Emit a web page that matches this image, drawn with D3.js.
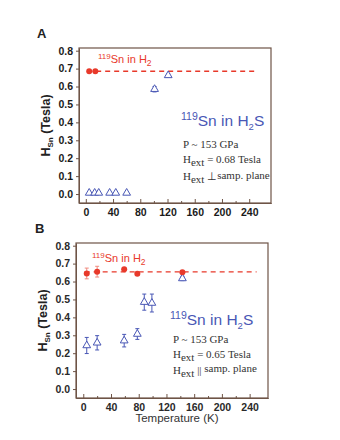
<!DOCTYPE html>
<html lang="en">
<head>
<meta charset="UTF-8">
<title>119Sn NMR field vs temperature</title>
<script src="https://d3js.org/d3.v7.min.js"></script>
<style>
  body { margin: 0; background: #fff; }
  svg text { font-family: "Liberation Sans", Arial, sans-serif; }
  .serif { font-family: "Liberation Serif", "Times New Roman", serif !important; }
</style>
</head>
<body>
<script>
// ---- data ----
const tempTicks = [0, 40, 80, 120, 160, 200, 240];
const fieldTicks = [0, 0.1, 0.2, 0.3, 0.4, 0.5, 0.6, 0.7, 0.8];

// panel A (H_ext perpendicular to sample plane)
const h2TempA = [5, 14];
const h2FieldA = [0.685, 0.685];
const h2ErrA = [0, 0];
const h2sTempA = [5, 13, 19, 35, 44, 60, 101, 121];
const h2sFieldA = [0.006, 0.006, 0.006, 0.006, 0.006, 0.006, 0.585, 0.662];
const h2sErrA = [0, 0, 0, 0, 0, 0, 0.015, 0.008];
const refLineA = 0.685;

// panel B (H_ext parallel to sample plane)
const h2TempB = [5, 20, 59, 78, 143];
const h2FieldB = [0.645, 0.655, 0.668, 0.643, 0.652];
const h2ErrB = [0.03, 0.03, 0.006, 0.008, 0.008];
const h2sTempB = [5, 20, 59, 78, 88, 99, 143];
const h2sFieldB = [0.243, 0.258, 0.27, 0.307, 0.485, 0.48, 0.617];
const h2sErrB = [0.045, 0.04, 0.035, 0.03, 0.045, 0.05, 0.012];
const refLineB = 0.654;

const red = "#e8392a";
const blue = "#4957b5";
const frame = "#6e5446";

const svg = d3.select("body").append("svg")
  .attr("width", 340).attr("height", 440);

function drawPanel(p) {
  const x = d3.scaleLinear().domain(p.xDomain).range([p.left, p.right]);
  const y = d3.scaleLinear().domain([-0.05, 0.815]).range([p.bottom, p.top]);
  const g = svg.append("g");

  // frame
  g.append("rect")
    .attr("x", p.left).attr("y", p.top)
    .attr("width", p.right - p.left).attr("height", p.bottom - p.top)
    .attr("fill", "none").attr("stroke", frame).attr("stroke-width", 1.2);

  // axes
  g.append("g").attr("transform", `translate(0,${p.bottom})`)
    .call(d3.axisBottom(x).tickValues(tempTicks).tickFormat(d3.format("d"))
      .tickSizeInner(-4).tickSizeOuter(0).tickPadding(6));
  g.append("g").attr("transform", `translate(0,${p.bottom})`)
    .call(d3.axisBottom(x).tickValues(d3.range(20, 260, 40)).tickFormat("")
      .tickSizeInner(-2).tickSizeOuter(0));
  g.append("g").attr("transform", `translate(${p.left},0)`)
    .call(d3.axisLeft(y).tickValues(fieldTicks).tickFormat(d3.format(".1f"))
      .tickSizeInner(3).tickSizeOuter(0).tickPadding(3));
  g.selectAll(".domain").attr("stroke", frame);
  g.selectAll(".tick line").attr("stroke", frame);
  g.selectAll(".tick text")
    .attr("fill", p.tickColor).attr("font-size", 10.5).attr("font-weight", "bold");

  // y title
  const yt = g.append("text")
    .attr("transform", `translate(${p.yTitleX},${(p.top + p.bottom) / 2}) rotate(-90)`)
    .attr("text-anchor", "middle").attr("font-size", 12.5).attr("font-weight", "bold")
    .attr("fill", "#222");
  yt.append("tspan").text("H");
  yt.append("tspan").attr("font-size", 8).attr("dy", 3).text("Sn");
  yt.append("tspan").attr("dy", -3).text(" (Tesla)");

  // x title (panel A's is mostly hidden under panel B)
  const clipId = "clip" + p.name;
  svg.append("clipPath").attr("id", clipId).append("rect")
    .attr("x", 0).attr("y", 0).attr("width", 340).attr("height", p.xTitleClip);
  g.append("text")
    .attr("clip-path", `url(#${clipId})`)
    .attr("x", (p.left + p.right) / 2 + 5).attr("y", p.xTitleY)
    .attr("text-anchor", "middle").attr("font-size", 11.5).attr("fill", "#333")
    .text("Temperature  (K)");

  // panel letter
  g.append("text").attr("x", p.letterX).attr("y", p.letterY)
    .attr("font-size", 13).attr("font-weight", "bold").attr("fill", "#222")
    .text(p.name);

  // dashed reference
  g.append("line")
    .attr("x1", x(2)).attr("x2", x(250))
    .attr("y1", y(p.refLine)).attr("y2", y(p.refLine))
    .attr("stroke", red).attr("stroke-width", 1.4).attr("stroke-dasharray", "5,4");

  // error bars
  function errBars(temps, vals, errs, color) {
    const eg = g.append("g").attr("stroke", color).attr("stroke-width", 1);
    temps.forEach((t, i) => {
      if (!errs[i]) return;
      const cx = x(t);
      eg.append("line").attr("x1", cx).attr("x2", cx)
        .attr("y1", y(vals[i] - errs[i])).attr("y2", y(vals[i] + errs[i]));
      [-1, 1].forEach(s => eg.append("line")
        .attr("x1", cx - 2).attr("x2", cx + 2)
        .attr("y1", y(vals[i] + s * errs[i])).attr("y2", y(vals[i] + s * errs[i])));
    });
  }
  errBars(p.h2sTemp, p.h2sField, p.h2sErr, blue);
  errBars(p.h2Temp, p.h2Field, p.h2Err, "#f08a7e");

  // H2S triangles
  const tri = d3.symbol().type(d3.symbolTriangle).size(26);
  g.selectAll(".tri").data(p.h2sTemp).enter().append("path")
    .attr("d", tri)
    .attr("transform", (t, i) => `translate(${x(t)},${y(p.h2sField[i])})`)
    .attr("fill", "#fff").attr("stroke", blue).attr("stroke-width", 1);

  // H2 dots
  g.selectAll(".dot").data(p.h2Temp).enter().append("circle")
    .attr("cx", t => x(t)).attr("cy", (t, i) => y(p.h2Field[i]))
    .attr("r", 3).attr("fill", red);

  // labels
  const l1 = g.append("text").attr("x", p.h2LabelX).attr("y", p.h2LabelY)
    .attr("font-size", 11).attr("fill", red);
  l1.append("tspan").attr("font-size", 8).attr("dy", -4).text("119");
  l1.append("tspan").attr("dy", 4).text("Sn in H");
  l1.append("tspan").attr("font-size", 8.5).attr("dy", 3).text("2");

  const l2 = g.append("text").attr("x", p.h2sLabelX).attr("y", p.h2sLabelY)
    .attr("font-size", 15.5).attr("fill", blue);
  l2.append("tspan").attr("font-size", 10.5).attr("dy", -6).text("119");
  l2.append("tspan").attr("dy", 6).text("Sn in H");
  l2.append("tspan").attr("font-size", 9.5).attr("dy", 4).text("2");
  l2.append("tspan").attr("dy", -4).text("S");

  const tx = p.infoX;
  g.append("text").attr("class", "serif").attr("x", tx).attr("y", p.infoY[0])
    .attr("font-size", 11).attr("fill", "#333").text("P ~ 153 GPa");
  const h1 = g.append("text").attr("class", "serif").attr("x", tx).attr("y", p.infoY[1])
    .attr("font-size", 11).attr("fill", "#333");
  h1.append("tspan").text("H");
  h1.append("tspan").attr("dy", 3).text("ext");
  h1.append("tspan").attr("dy", -3).text(p.fieldText);
  const h3 = g.append("text").attr("class", "serif").attr("x", tx).attr("y", p.infoY[2])
    .attr("font-size", 11).attr("fill", "#333");
  h3.append("tspan").text("H");
  h3.append("tspan").attr("dy", 3).text("ext");
  h3.append("tspan").attr("dy", -3).text(p.planeSym);
  h3.append("tspan").attr("font-size", p.planeSize).attr("dy", p.planeDy).text("samp. plane");
}

drawPanel({
  name: "A", left: 79, right: 271, top: 48, bottom: 203,
  xDomain: [-10, 272], tickColor: "#1a1a1a",
  yTitleX: 50, xTitleY: 231, xTitleClip: 223,
  letterX: 37, letterY: 38,
  refLine: refLineA,
  h2Temp: h2TempA, h2Field: h2FieldA, h2Err: h2ErrA,
  h2sTemp: h2sTempA, h2sField: h2sFieldA, h2sErr: h2sErrA,
  h2LabelX: 98, h2LabelY: 63,
  h2sLabelX: 181, h2sLabelY: 126,
  infoX: 183, infoY: [148, 163, 180],
  fieldText: " = 0.68 Tesla", planeSym: " \u22A5", planeSize: 11, planeDy: -1
});

drawPanel({
  name: "B", left: 76, right: 268, top: 243, bottom: 398,
  xDomain: [-10.5, 266.5], tickColor: "#2a2a2a",
  yTitleX: 47, xTitleY: 422, xTitleClip: 440,
  letterX: 35, letterY: 233,
  refLine: refLineB,
  h2Temp: h2TempB, h2Field: h2FieldB, h2Err: h2ErrB,
  h2sTemp: h2sTempB, h2sField: h2sFieldB, h2sErr: h2sErrB,
  h2LabelX: 92, h2LabelY: 262,
  h2sLabelX: 170, h2sLabelY: 325,
  infoX: 173, infoY: [343, 358, 374],
  fieldText: "  = 0.65 Tesla", planeSym: "   ||  ", planeSize: 11, planeDy: -2
});
</script>
</body>
</html>
